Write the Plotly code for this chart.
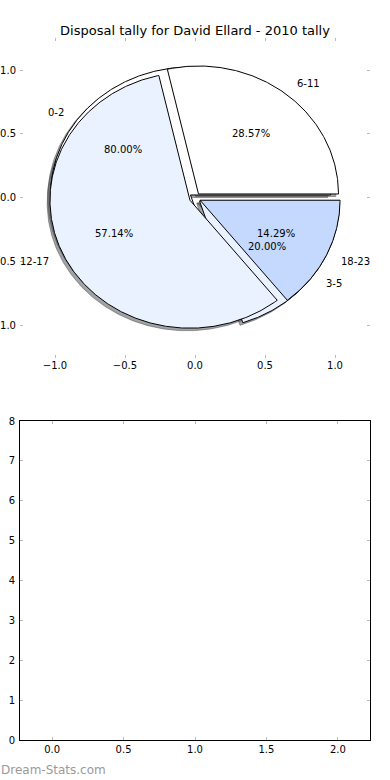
import numpy as np
import plotly.graph_objects as go

# ---- data ----
title = "Disposal tally for David Ellard - 2010 tally"
pie1_labels = ["0-2", "3-5"]
pie1_values = [4, 1]
pie2_labels = ["6-11", "12-17", "18-23"]
pie2_values = [2, 4, 1]
colors = ["#FFFFFF", "#EBF2FF", "#C5D9FF"]
explode = 0.04
shadow_off = -0.02

top_ticks = [-1.0, -0.5, 0.0, 0.5, 1.0]
bottom_xticks = [0.0, 0.5, 1.0, 1.5, 2.0]
bottom_yticks = list(range(0, 9))

fig = go.Figure()


def wedges(values):
    vals = np.array(values, dtype=float)
    fr = vals / vals.sum()
    out = []
    t0 = 0.0
    for f in fr:
        t1 = t0 + 360.0 * f
        mid = np.deg2rad((t0 + t1) / 2)
        cx, cy = explode * np.cos(mid), explode * np.sin(mid)
        th = np.deg2rad(np.linspace(t0, t1, max(int((t1 - t0) * 2), 4)))
        xs = np.concatenate([[cx], cx + np.cos(th), [cx]])
        ys = np.concatenate([[cy], cy + np.sin(th), [cy]])
        out.append((xs, ys, cx, cy, mid, f))
        t0 = t1
    return out


pies = [(pie1_labels, wedges(pie1_values)), (pie2_labels, wedges(pie2_values))]


def shade(hexc):
    h = hexc.lstrip("#")
    r, g, b = (int(h[i:i + 2], 16) for i in (0, 2, 4))
    return "rgba(%d,%d,%d,0.5)" % (r * 0.3, g * 0.3, b * 0.3)


# shadows first (below all wedges)
for labels, ws in pies:
    for i, (xs, ys, cx, cy, mid, f) in enumerate(ws):
        c = shade(colors[i % len(colors)])
        fig.add_trace(go.Scatter(x=xs + shadow_off, y=ys + shadow_off, mode="lines",
                                 fill="toself", fillcolor=c, line=dict(color=c, width=1),
                                 hoverinfo="skip", showlegend=False, xaxis="x", yaxis="y"))
# wedges
for labels, ws in pies:
    for i, (xs, ys, cx, cy, mid, f) in enumerate(ws):
        fig.add_trace(go.Scatter(x=xs, y=ys, mode="lines", fill="toself",
                                 fillcolor=colors[i % len(colors)],
                                 line=dict(color="black", width=1),
                                 hoverinfo="skip", showlegend=False, xaxis="x", yaxis="y"))

annots = []
for labels, ws in pies:
    for i, (xs, ys, cx, cy, mid, f) in enumerate(ws):
        lx = cx + 1.1 * np.cos(mid)
        ly = cy + 1.1 * np.sin(mid)
        annots.append(dict(x=lx, y=ly, xref="x", yref="y", text=labels[i], showarrow=False,
                           xanchor="left" if lx > 0 else "right", yanchor="middle",
                           font=dict(size=10, color="black")))
        px = cx + 0.6 * np.cos(mid)
        py = cy + 0.6 * np.sin(mid)
        annots.append(dict(x=px, y=py, xref="x", yref="y", text="%1.2f%%" % (f * 100),
                           showarrow=False, xanchor="center", yanchor="middle",
                           font=dict(size=10, color="black")))

# empty bottom axes (no marks)
fig.add_trace(go.Scatter(x=[None], y=[None], xaxis="x2", yaxis="y2", showlegend=False))

tick_common = dict(ticks="inside", ticklen=3, tickcolor="#b8b8b8", tickwidth=1,
                   showgrid=False, zeroline=False, automargin=False,
                   tickfont=dict(size=10, color="black"))

annots.append(dict(x=0, y=0, xref="paper", yref="paper", xanchor="left", yanchor="middle",
                   text="Dream-Stats.com", showarrow=False, xshift=-21, yshift=-30,
                   font=dict(size=12, color="#9a9a9a")))

fig.update_layout(
    width=390, height=780,
    margin=dict(l=20, r=20, t=38, b=40, autoexpand=False),
    paper_bgcolor="white", plot_bgcolor="white",
    font=dict(family="DejaVu Sans", size=10, color="black"),
    title=dict(text=title, x=0.5, xanchor="center", y=1 - 30 / 780, yanchor="middle",
               font=dict(size=13, color="black"), automargin=False),
    hovermode=False,
    xaxis=dict(domain=[0, 1], range=[-1.25, 1.25], tickvals=top_ticks, tickformat=".1f",
               anchor="y", showline=False, mirror="ticks", **tick_common),
    yaxis=dict(domain=[0.5442, 1], range=[-1.25, 1.25], tickvals=top_ticks, tickformat=".1f",
               anchor="x", showline=False, mirror="ticks", ticklabelstandoff=3, **tick_common),
    xaxis2=dict(domain=[0, 1], range=[-0.225, 2.225], tickvals=bottom_xticks, tickformat=".1f",
                anchor="y2", showline=True, linecolor="black", linewidth=1, mirror="ticks",
                **tick_common),
    yaxis2=dict(domain=[0, 0.4544], range=[0, 8], tickvals=bottom_yticks,
                anchor="x2", showline=True, linecolor="black", linewidth=1, mirror="ticks",
                ticklabelstandoff=2, **tick_common),
    annotations=annots,
)

fig.write_html("out.html", config={"displayModeBar": False, "staticPlot": True},
               post_script="document.body.style.margin='0px';document.body.style.padding='0px';")
